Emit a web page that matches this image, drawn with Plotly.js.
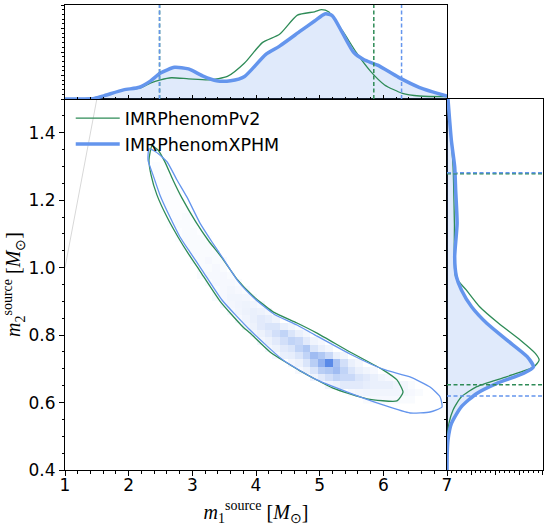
<!DOCTYPE html>
<html>
<head>
<meta charset="utf-8">
<script src="https://cdn.plot.ly/plotly-3.0.1.min.js"></script>
<style>
  html, body { margin: 0; padding: 0; background: #fff; }
  #chart { width: 549px; height: 526px; }
</style>
</head>
<body>
<div id="chart"></div>
<script>
// top marginal: m1 density (relative height)
const xphmTopX = [1.0, 1.46, 1.62, 1.92, 2.17, 2.34, 2.50, 2.72, 2.94, 3.16, 3.38, 3.60, 3.82, 4.15, 4.37, 4.70, 4.92, 5.09, 5.20, 5.36, 5.53, 5.69, 5.91, 6.24, 6.57, 7.0];
const xphmTop  = [0, 0.007, 0.036, 0.097, 0.125, 0.19, 0.276, 0.337, 0.32, 0.247, 0.194, 0.194, 0.24, 0.473, 0.563, 0.724, 0.83, 0.907, 0.885, 0.70, 0.50, 0.42, 0.36, 0.23, 0.122, 0.032];
const pv2TopX  = [1.0, 1.46, 1.62, 1.92, 2.17, 2.34, 2.50, 2.67, 2.94, 3.27, 3.55, 3.82, 4.10, 4.37, 4.65, 4.92, 5.03, 5.14, 5.36, 5.58, 5.80, 6.02, 6.30, 6.57, 7.0];
const pv2Top   = [0, 0.007, 0.036, 0.097, 0.115, 0.17, 0.204, 0.226, 0.215, 0.204, 0.24, 0.383, 0.6, 0.688, 0.892, 0.928, 0.95, 0.928, 0.724, 0.49, 0.294, 0.15, 0.061, 0.032, 0.025];

// right marginal: m2 density (relative width)
const xphmSideY = [1.5, 1.378, 1.299, 1.230, 1.131, 1.032, 0.973, 0.934, 0.884, 0.835, 0.785, 0.736, 0.706, 0.687, 0.657, 0.627, 0.588, 0.538, 0.489, 0.45, 0.4];
const xphmSide  = [0.01, 0.045, 0.08, 0.09, 0.105, 0.08, 0.098, 0.15, 0.256, 0.414, 0.625, 0.835, 0.9, 0.8, 0.52, 0.31, 0.15, 0.046, 0.01, 0.002, 0];
const pv2SideY  = [1.5, 1.299, 1.131, 0.973, 0.934, 0.884, 0.835, 0.785, 0.746, 0.726, 0.706, 0.677, 0.647, 0.617, 0.578, 0.538, 0.489];
const pv2Side   = [0.01, 0.063, 0.077, 0.09, 0.2, 0.34, 0.537, 0.765, 0.92, 0.96, 0.905, 0.625, 0.31, 0.15, 0.063, 0.02, 0];

// 90% credible bounds
const xphmM1Bounds = [2.485, 6.286];
const pv2M1Bounds  = [2.485, 5.85];
const xphmM2Bounds = [0.6195, 1.2815];
const pv2M2Bounds  = [0.653, 1.2786];

// 90% contours in the m1-m2 plane
const xphmContourX = [2.319, 2.429, 2.602, 2.759, 2.916, 3.120, 3.309, 3.497, 3.717, 3.968, 4.283, 4.644, 4.958, 5.476, 5.994, 6.419, 6.733, 6.890, 6.921, 6.733, 6.419, 5.994, 5.476, 4.958, 4.424, 3.906, 3.466, 3.152, 2.963, 2.806, 2.649, 2.492, 2.382, 2.304, 2.319];
const xphmContourY = [1.352, 1.343, 1.314, 1.260, 1.209, 1.132, 1.076, 1.023, 0.960, 0.910, 0.862, 0.830, 0.797, 0.744, 0.699, 0.676, 0.646, 0.617, 0.587, 0.572, 0.569, 0.593, 0.628, 0.667, 0.726, 0.815, 0.904, 0.993, 1.046, 1.091, 1.150, 1.215, 1.275, 1.319, 1.352];
const pv2ContourX  = [2.366, 2.461, 2.571, 2.696, 2.838, 3.057, 3.246, 3.466, 3.701, 3.953, 4.267, 4.644, 4.958, 5.476, 5.994, 6.214, 6.309, 6.214, 5.743, 5.209, 4.691, 4.220, 3.906, 3.796, 3.434, 3.120, 2.932, 2.775, 2.602, 2.445, 2.351, 2.319, 2.366];
const pv2ContourY  = [1.361, 1.349, 1.313, 1.260, 1.206, 1.135, 1.082, 1.029, 0.966, 0.916, 0.869, 0.836, 0.806, 0.750, 0.697, 0.667, 0.631, 0.605, 0.611, 0.643, 0.694, 0.750, 0.806, 0.824, 0.901, 0.990, 1.043, 1.091, 1.150, 1.215, 1.275, 1.319, 1.361];

// 2D histogram of XPHM samples: [row, first column, densities]
const binX0 = 2.43, binDX = 0.118, binY0 = 0.609, binDY = 0.0217;
const densityRows = [
  [0, 28, [0.02, 0.03, 0.03, 0.03, 0.03, 0.02, 0.02]],
  [1, 26, [0.03, 0.04, 0.05, 0.05, 0.05, 0.05, 0.05, 0.04, 0.03, 0.02]],
  [2, 23, [0.05, 0.08, 0.15, 0.15, 0.15, 0.12, 0.1, 0.1, 0.1, 0.06, 0.04, 0.02]],
  [3, 21, [0.06, 0.15, 0.25, 0.35, 0.3, 0.3, 0.2, 0.15, 0.1, 0.05, 0.03, 0.02]],
  [4, 19, [0.03, 0.08, 0.2, 0.4, 0.45, 0.55, 0.35, 0.2, 0.1, 0.05, 0.03]],
  [5, 18, [0.04, 0.08, 0.2, 0.4, 0.65, 1.0, 0.5, 0.25, 0.1, 0.04]],
  [6, 16, [0.03, 0.1, 0.12, 0.2, 0.35, 0.55, 0.45, 0.3, 0.1, 0.04]],
  [7, 15, [0.04, 0.08, 0.15, 0.2, 0.35, 0.45, 0.2, 0.1, 0.04]],
  [8, 14, [0.04, 0.08, 0.15, 0.25, 0.35, 0.3, 0.15, 0.06, 0.03]],
  [9, 13, [0.04, 0.08, 0.15, 0.25, 0.35, 0.2, 0.1, 0.04]],
  [10, 12, [0.04, 0.08, 0.15, 0.2, 0.2, 0.1, 0.05, 0.02]],
  [11, 11, [0.03, 0.06, 0.1, 0.15, 0.12, 0.06]],
  [12, 10, [0.03, 0.05, 0.08, 0.1, 0.08, 0.04]],
  [13, 9, [0.03, 0.04, 0.06, 0.07, 0.05, 0.03]],
  [14, 8, [0.02, 0.03, 0.05, 0.05, 0.04, 0.02]],
  [15, 8, [0.02, 0.03, 0.04, 0.03, 0.02]],
  [16, 7, [0.02, 0.03, 0.03, 0.03, 0.02]],
  [17, 6, [0.02, 0.03, 0.03, 0.03, 0.02]],
  [18, 6, [0.02, 0.02, 0.03, 0.02]],
  [19, 5, [0.02, 0.02, 0.03, 0.02, 0.02]],
  [20, 5, [0.02, 0.02, 0.02, 0.02]],
  [21, 4, [0.02, 0.02, 0.02, 0.02]],
  [22, 3, [0.01, 0.02, 0.02, 0.02, 0.01]],
  [23, 3, [0.01, 0.02, 0.02, 0.01]],
  [24, 2, [0.01, 0.02, 0.02, 0.01]],
  [25, 2, [0.01, 0.01, 0.02, 0.01]],
  [26, 1, [0.01, 0.01, 0.01, 0.01]],
  [27, 1, [0.01, 0.01, 0.01]],
  [28, 0, [0.01, 0.01, 0.01, 0.01]],
  [29, 0, [0.01, 0.01, 0.01]],
  [30, 0, [0.01, 0.01, 0.01]],
  [31, 0, [0.01, 0.01]],
  [32, 0, [0.01]]
];

const equalMass = [1, 1.5];

const GREEN = '#2e8b57';
const BLUE = '#6495ed';
const FILL = 'rgba(100,149,237,0.2)';

// build the histogram grid
const nRows = 34, nCols = 39;
const z = [];
for (let j = 0; j < nRows; j++) z.push(new Array(nCols).fill(null));
densityRows.forEach(([row, start, vals]) => {
    vals.forEach((v, k) => { z[row][start + k] = v; });
});

const traces = [
    {
        type: 'heatmap', xaxis: 'x', yaxis: 'y',
        z: z, x0: binX0, dx: binDX, y0: binY0, dy: binDY,
        zmin: 0, zmax: 1, showscale: false, hoverinfo: 'skip',
        colorscale: [[0, '#ffffff'], [0.04, '#f3f6fd'], [0.2, '#dae5fa'], [0.5, '#a8c2f3'], [1, '#5a8ae8']],
        showlegend: false
    },
    {
        x: equalMass, y: equalMass, xaxis: 'x', yaxis: 'y',
        mode: 'lines', line: {color: '#d8d8d8', width: 1}, showlegend: false, hoverinfo: 'skip'
    },
    {
        x: pv2ContourX, y: pv2ContourY, xaxis: 'x', yaxis: 'y',
        mode: 'lines', line: {color: GREEN, width: 1.3, shape: 'spline', smoothing: 0.5}, showlegend: false
    },
    {
        x: xphmContourX, y: xphmContourY, xaxis: 'x', yaxis: 'y',
        mode: 'lines', line: {color: BLUE, width: 1.3, shape: 'spline', smoothing: 0.5}, showlegend: false
    },
    // top marginal
    {
        x: xphmTopX, y: xphmTop, xaxis: 'x2', yaxis: 'y2',
        mode: 'lines', fill: 'tozeroy', fillcolor: FILL,
        line: {width: 0, shape: 'spline', smoothing: 0.6}, showlegend: false, hoverinfo: 'skip'
    },
    {
        x: pv2TopX, y: pv2Top, xaxis: 'x2', yaxis: 'y2', name: 'IMRPhenomPv2',
        mode: 'lines', line: {color: GREEN, width: 1.3, shape: 'spline', smoothing: 0.6}
    },
    {
        x: xphmTopX, y: xphmTop, xaxis: 'x2', yaxis: 'y2', name: 'IMRPhenomXPHM',
        mode: 'lines', line: {color: BLUE, width: 3.5, shape: 'spline', smoothing: 0.6}
    },
    // right marginal
    {
        x: xphmSide, y: xphmSideY, xaxis: 'x3', yaxis: 'y3',
        mode: 'lines', fill: 'tozerox', fillcolor: FILL,
        line: {width: 0, shape: 'spline', smoothing: 0.6}, showlegend: false, hoverinfo: 'skip'
    },
    {
        x: pv2Side, y: pv2SideY, xaxis: 'x3', yaxis: 'y3',
        mode: 'lines', line: {color: GREEN, width: 1.3, shape: 'spline', smoothing: 0.6}, showlegend: false
    },
    {
        x: xphmSide, y: xphmSideY, xaxis: 'x3', yaxis: 'y3',
        mode: 'lines', line: {color: BLUE, width: 3.5, shape: 'spline', smoothing: 0.6}, showlegend: false
    }
];

const shapes = [];
function vline(x, color) {
    shapes.push({type: 'line', xref: 'x2', yref: 'y2 domain', x0: x, x1: x, y0: 0, y1: 1,
        line: {color: color, width: 1.5, dash: '4px,2.5px'}});
}
function hline(y, color) {
    shapes.push({type: 'line', xref: 'x3 domain', yref: 'y3', x0: 0, x1: 1, y0: y, y1: y,
        line: {color: color, width: 1.5, dash: '4px,2.5px'}});
}
pv2M1Bounds.forEach(v => vline(v, GREEN));
xphmM1Bounds.forEach(v => vline(v, BLUE));
pv2M2Bounds.forEach(v => hline(v, GREEN));
xphmM2Bounds.forEach(v => hline(v, BLUE));

const tickFont = {family: 'DejaVu Sans', size: 17, color: '#000'};
const titleFont = {family: 'Liberation Serif', size: 20, color: '#000'};
const frame = {showline: true, mirror: true, linecolor: '#000', linewidth: 1, showgrid: false, zeroline: false,
    tickcolor: '#000', tickwidth: 1};

const layout = {
    width: 549, height: 526,
    margin: {l: 65, r: 6, t: 5, b: 56},
    paper_bgcolor: '#fff', plot_bgcolor: '#fff',
    showlegend: true,
    legend: {
        x: 0.012, y: 0.795, xanchor: 'left', yanchor: 'top',
        font: {family: 'DejaVu Sans', size: 17.5, color: '#000'},
        bgcolor: 'rgba(0,0,0,0)', tracegroupgap: 0, itemwidth: 44
    },
    xaxis: Object.assign({}, frame, {
        domain: [0, 0.7992], anchor: 'y', range: [1, 7], dtick: 1, tick0: 1,
        ticks: 'outside', ticklen: 5, tickfont: tickFont, ticklabelstandoff: -5,
        minor: {dtick: 0.2, ticklen: 2.5, ticks: 'outside', tickcolor: '#000'},
        title: {text: '<i>m</i><sub>1</sub><sup>source</sup> [<i>M</i><sub>⊙</sub>]', font: titleFont, standoff: 12}
    }),
    yaxis: Object.assign({}, frame, {
        domain: [0, 0.7978], anchor: 'x', range: [0.4, 1.5], dtick: 0.2, tick0: 0.4,
        ticks: 'outside', ticklen: 5, tickfont: tickFont, tickformat: '.1f',
        minor: {dtick: 0.05, ticklen: 2.5, ticks: 'outside', tickcolor: '#000'},
        title: {text: '<i>m</i><sub>2</sub><sup>source</sup> [<i>M</i><sub>⊙</sub>]', font: titleFont}
    }),
    xaxis2: Object.assign({}, frame, {
        domain: [0, 0.7992], anchor: 'y2', matches: 'x', range: [1, 7], dtick: 1,
        ticks: 'inside', ticklen: 4, showticklabels: false,
        minor: {dtick: 0.2, ticklen: 2, ticks: 'inside', tickcolor: '#000'}
    }),
    yaxis2: Object.assign({}, frame, {
        domain: [0.7978, 1], anchor: 'x2', range: [0, 1], dtick: 0.25,
        ticks: 'outside', ticklen: 3.5, showticklabels: false,
        minor: {dtick: 0.05, ticklen: 2, ticks: 'outside', tickcolor: '#000'}
    }),
    xaxis3: Object.assign({}, frame, {
        domain: [0.7992, 1], anchor: 'y3', range: [0, 1], dtick: 0.25,
        ticks: 'outside', ticklen: 3.5, showticklabels: false,
        minor: {dtick: 0.05, ticklen: 2, ticks: 'outside', tickcolor: '#000'}
    }),
    yaxis3: Object.assign({}, frame, {
        domain: [0, 0.7978], anchor: 'x3', matches: 'y', range: [0.4, 1.5], dtick: 0.2, tick0: 0.4,
        ticks: 'outside', ticklen: 3.5, showticklabels: false,
        minor: {dtick: 0.05, ticklen: 2, ticks: 'outside', tickcolor: '#000'}
    }),
    shapes: shapes
};

Plotly.newPlot('chart', traces, layout, {staticPlot: true});
</script>
</body>
</html>
